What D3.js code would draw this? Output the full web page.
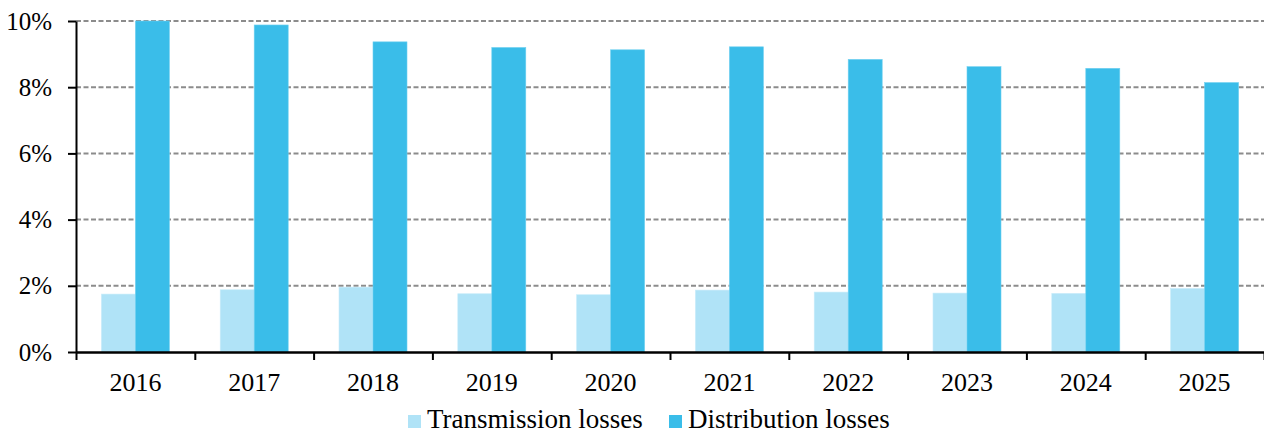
<!DOCTYPE html>
<html>
<head>
<meta charset="utf-8">
<script src="https://cdn.jsdelivr.net/npm/d3@7"></script>
<style>
  body { margin: 0; background: #fff; }
  svg { display: block; font-family: 'Liberation Serif', 'Times New Roman', serif; }
</style>
</head>
<body>
<div id="chart"></div>
<script>
// data
var years = ['2016', '2017', '2018', '2019', '2020', '2021', '2022', '2023', '2024', '2025']
var seriesNames = ['Transmission losses', 'Distribution losses']
var transmission = [1.75, 1.88, 1.96, 1.76, 1.73, 1.87, 1.81, 1.78, 1.77, 1.92]
var distribution = [10.0, 9.88, 9.37, 9.2, 9.13, 9.22, 8.84, 8.62, 8.57, 8.14]
var yTicks = [0, 2, 4, 6, 8, 10]
var colors = ['#b0e3f7', '#3abde9']

var svgWidth = 1264
var svgHeight = 434
var margin = { top: 21, right: 0, bottom: 82, left: 76 }
var chartWidth = svgWidth - margin.left - margin.right
var chartHeight = svgHeight - margin.top - margin.bottom

var table = years.map(function (y, i) {
  return { year: y, values: [transmission[i], distribution[i]] }
})

var svg = d3.select('#chart')
  .append('svg')
  .attr('width', svgWidth)
  .attr('height', svgHeight)

var chartGroup = svg.append('g')
  .attr('transform', `translate(${margin.left}, ${margin.top})`)

// scales
var xScale = d3.scaleBand()
  .domain(years)
  .range([0, chartWidth])
  .padding(0)

var xSub = d3.scaleBand()
  .domain(seriesNames)
  .range([0, xScale.bandwidth()])
  .paddingInner(0)
  .paddingOuter(0.747)

var yScale = d3.scaleLinear()
  .domain([0, 10])
  .range([chartHeight, 0])

// dashed gridlines
chartGroup.append('g')
  .selectAll('line')
  .data(yTicks.filter(d => d > 0))
  .enter()
  .append('line')
  .attr('x1', 0)
  .attr('x2', chartWidth)
  .attr('y1', d => yScale(d))
  .attr('y2', d => yScale(d))
  .attr('stroke', '#8c8c8c')
  .attr('stroke-width', 2)
  .attr('stroke-dasharray', '5,2.5')

// bars
var groups = chartGroup.selectAll('.yearGroup')
  .data(table)
  .enter()
  .append('g')
  .attr('class', 'yearGroup')
  .attr('transform', d => `translate(${xScale(d.year)}, 0)`)

groups.selectAll('rect')
  .data(d => d.values.map((v, i) => ({ key: seriesNames[i], value: v, idx: i })))
  .enter()
  .append('rect')
  .attr('x', d => xSub(d.key))
  .attr('width', xSub.bandwidth())
  .attr('y', d => yScale(d.value))
  .attr('height', d => chartHeight - yScale(d.value))
  .attr('fill', d => colors[d.idx])
  .attr('stroke', d => d.idx === 0 ? '#c8ecfa' : '#6fd0f0')
  .attr('stroke-width', 0.6)

// y axis
var leftAxis = d3.axisLeft(yScale)
  .tickValues(yTicks)
  .tickFormat(d => d + '%')
  .tickSize(8)
  .tickSizeOuter(0)
  .tickPadding(16)

var yAxis = chartGroup.append('g').call(leftAxis)
yAxis.select('.domain').attr('stroke', '#000').attr('stroke-width', 2)
yAxis.selectAll('.tick line').attr('stroke', '#000').attr('stroke-width', 2)
yAxis.selectAll('text')
  .attr('font-size', '25px')
  .attr('font-family', "'Liberation Serif', 'Times New Roman', serif")
  .attr('fill', '#000')

// x axis: tick marks at the category boundaries
var edgeScale = d3.scaleLinear().domain([0, years.length]).range([0, chartWidth])
var edgeAxis = d3.axisBottom(edgeScale)
  .tickValues(d3.range(years.length + 1))
  .tickFormat('')
  .tickSize(8)
  .tickSizeOuter(0)

var xAxis = chartGroup.append('g')
  .attr('transform', `translate(0, ${chartHeight})`)
  .call(edgeAxis)
xAxis.select('.domain').attr('stroke', '#000').attr('stroke-width', 2.5)
xAxis.selectAll('.tick line').attr('stroke', '#000').attr('stroke-width', 2)

// x labels
var labelAxis = d3.axisBottom(xScale).tickSize(0).tickPadding(21)
var xLabels = chartGroup.append('g')
  .attr('transform', `translate(0, ${chartHeight})`)
  .call(labelAxis)
xLabels.select('.domain').remove()
xLabels.selectAll('text')
  .attr('font-size', '26px')
  .attr('font-family', "'Liberation Serif', 'Times New Roman', serif")
  .attr('fill', '#000')

// legend
var legend = svg.append('g')
  .attr('transform', 'translate(408, 428)')

var legendX = [0, 261]
seriesNames.forEach(function (name, i) {
  var item = legend.append('g').attr('transform', `translate(${legendX[i]}, 0)`)
  item.append('rect')
    .attr('x', 0)
    .attr('y', -13)
    .attr('width', 13)
    .attr('height', 13)
    .attr('fill', colors[i])
  item.append('text')
    .attr('x', 19)
    .attr('y', 0)
    .attr('font-size', '27px')
    .attr('fill', '#000')
    .text(name)
})
</script>
</body>
</html>
